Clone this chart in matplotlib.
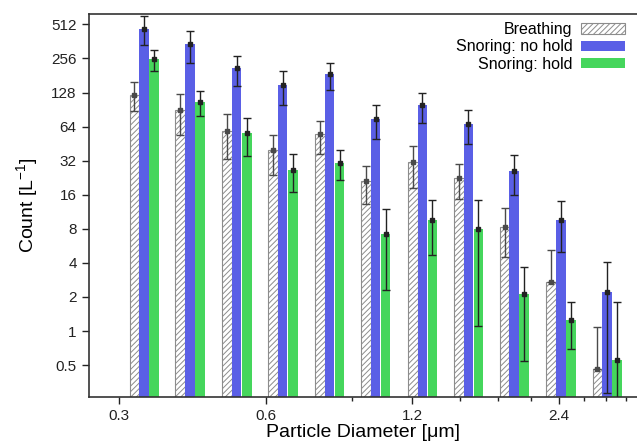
import matplotlib
matplotlib.use("Agg")
import matplotlib.pyplot as plt
import numpy as np
from matplotlib.ticker import FixedLocator, FixedFormatter, MultipleLocator, LogLocator, NullFormatter

plt.rcParams["font.family"] = ["Liberation Sans", "DejaVu Sans"]
plt.rcParams["mathtext.default"] = "regular"
plt.rcParams["hatch.linewidth"] = 0.7

# bin centres [um]
diameter = [0.3375, 0.419, 0.523, 0.650, 0.811, 1.008, 1.258, 1.563, 1.941, 2.42, 3.01]

# counts [1/L] with lower / upper error limits
breathing = [122, 90, 58, 40, 55, 21, 31, 22.5, 8.3, 2.7, 0.46]
breathing_lo = [87, 54, 33, 24, 37, 13.3, 18.4, 14.7, 4.5, 2.7, 0.46]
breathing_hi = [158, 124, 83, 54, 72, 28.5, 43, 30, 12.2, 5.2, 1.08]

no_hold = [468, 343, 211, 148, 185, 75, 98.5, 67.5, 25.7, 9.65, 2.2]
no_hold_lo = [338, 233, 147, 98.5, 135, 50, 69, 45, 15.9, 5.0, 0.285]
no_hold_hi = [601, 443, 270, 199, 235, 99, 128, 89, 35.6, 14.2, 4.08]

hold = [253, 105, 56, 26.6, 30.5, 7.2, 9.55, 7.9, 2.13, 1.25, 0.55]
hold_lo = [199, 79, 35, 16.8, 21.6, 2.3, 4.7, 1.12, 0.54, 0.70, 0.2]
hold_hi = [305, 131, 77, 36.7, 40, 12, 14.5, 14.3, 3.7, 1.8, 1.8]

y_ticks = [0.5, 1, 2, 4, 8, 16, 32, 64, 128, 256, 512]
x_ticks = [0.3, 0.6, 1.2, 2.4]

BLUE = "#5a5fe6"
GREEN = "#45d65c"
BAR_W = 0.0653  # bar width in octaves


def bar_span(centres, start, stop):
    c = np.asarray(centres)
    left = c * 2 ** (start * BAR_W)
    right = c * 2 ** (stop * BAR_W)
    return left, right - left, np.sqrt(left * right)


def draw_series(ax, vals, lo, hi, start, label, ecol, **kw):
    left, width, mid = bar_span(diameter, start, start + 1)
    ax.bar(left, vals, width=width, align="edge", label=label, zorder=2, **kw)
    v = np.asarray(vals)
    yerr = [v - np.asarray(lo), np.asarray(hi) - v]
    ax.errorbar(mid, v, yerr=yerr, fmt="s", ms=2.2, color=ecol, ecolor=ecol,
                elinewidth=1.0, capsize=3.2, capthick=1.0, zorder=3)


fig = plt.figure(figsize=(6.37, 4.44), dpi=100)
ax = fig.add_axes([0.139, 0.106, 0.861, 0.863])
ax.set_xscale("log")
ax.set_yscale("log")

draw_series(ax, breathing, breathing_lo, breathing_hi, -1.5, "Breathing", "#4a4a4a",
            facecolor="white", edgecolor="#8c8c8c", hatch="//////", linewidth=0.8)
draw_series(ax, no_hold, no_hold_lo, no_hold_hi, -0.5, "Snoring: no hold", "#222222",
            color=BLUE)
draw_series(ax, hold, hold_lo, hold_hi, 0.55, "Snoring: hold", "#222222",
            color=GREEN)

ax.set_xlim(0.2596, 3.47)
ax.set_ylim(0.262, 635)

ax.xaxis.set_major_locator(FixedLocator(x_ticks))
ax.xaxis.set_major_formatter(FixedFormatter([str(t) for t in x_ticks]))
ax.xaxis.set_minor_locator(MultipleLocator(0.3))
ax.xaxis.set_minor_formatter(NullFormatter())

ax.yaxis.set_major_locator(FixedLocator(y_ticks))
ax.yaxis.set_major_formatter(FixedFormatter([f"{t:g}" for t in y_ticks]))
ax.yaxis.set_minor_locator(LogLocator(base=2, subs=2 ** (np.arange(1, 5) / 5)))
ax.yaxis.set_minor_formatter(NullFormatter())

ax.tick_params(which="major", direction="out", length=5, width=1, labelsize=11, colors="#222222")
ax.tick_params(which="minor", direction="out", length=3, width=1, colors="#222222")
for side in ("left", "bottom", "top"):
    ax.spines[side].set_linewidth(1.2)
    ax.spines[side].set_color("#333333")
ax.spines["right"].set_visible(False)

ax.set_xlabel("Particle Diameter [μm]", fontsize=14, labelpad=1)
ax.set_ylabel("Count [L$^{-1}$]", fontsize=14, labelpad=8)

ax.legend(loc="upper right", bbox_to_anchor=(0.99, 0.995), frameon=False,
          markerfirst=False, fontsize=11.5, handlelength=2.75, handleheight=0.6,
          handletextpad=0.55, labelspacing=0.15, borderaxespad=0)

fig.savefig("out.png", dpi=100)
